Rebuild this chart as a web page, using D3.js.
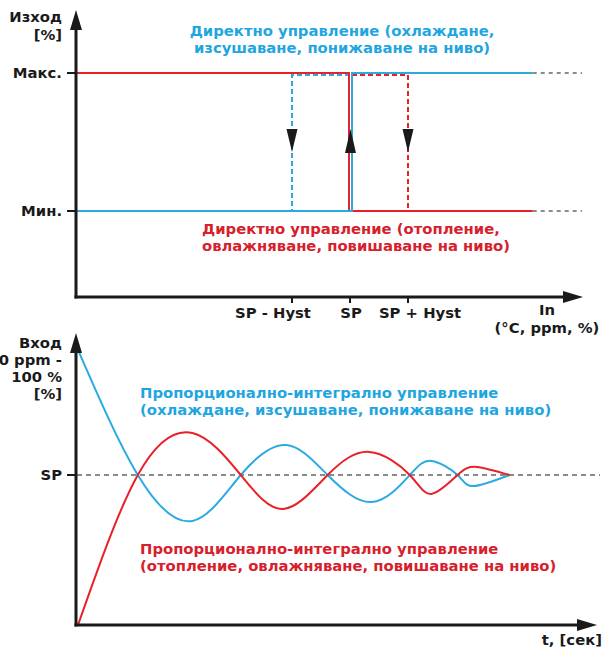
<!DOCTYPE html>
<html>
<head>
<meta charset="utf-8">
<script src="https://cdn.jsdelivr.net/npm/d3@7"></script>
<style>
  body { margin: 0; background: #fff; }
  svg { display: block; font-family: "DejaVu Sans", Verdana, sans-serif; font-weight: bold; }
</style>
</head>
<body>
<svg id="chart" width="606" height="650"></svg>
<script>
// ---- data: on/off (direct control) chart ----
var outLevels = ["Мин.", "Макс."];
var outValues = [0, 100];
var inTicks = ["SP - Hyst", "SP", "SP + Hyst"];
var inValues = [-1, 0, 1];          // SP = 0, Hyst = 1
var inLineEnd = 3.15, inDashEnd = 4.0;

// ---- data: PI control chart (time, value in %) ----
var spValue = 50;
var coolT = [0, 11.5, 22, 31.3, 40, 48, 56.5, 63.8, 68, 73, 76, 83];
var coolV = [91.7, 50, 34.7, 50, 60, 50, 41, 50, 54.7, 50, 46.3, 50];
var heatT = [0, 11.5, 22, 31.3, 39.5, 48, 56, 63.8, 68, 73, 76.7, 83];
var heatV = [0, 50, 64, 50, 38.7, 50, 57.7, 50, 43.7, 50, 52.7, 50];

var blue = "#29abe2", red = "#e8202a", ink = "#1a1a1a";
var blueTxt = "#1fa6e0", redTxt = "#d7202b";
var fs = 14.8;

var svg = d3.select("#chart");

function arrowHead(g, x, y, dir, w, h) {
    // dir: "up", "down", "right"
    var p;
    if (dir == "up") p = [[x, y], [x - w / 2, y + h], [x + w / 2, y + h]];
    else if (dir == "down") p = [[x, y], [x - w / 2, y - h], [x + w / 2, y - h]];
    else p = [[x, y], [x - h, y - w / 2], [x - h, y + w / 2]];
    g.append("path").attr("d", "M" + p.join("L") + "Z").attr("fill", ink);
}

function lines(g, arr, x, y, anchor, color, dy) {
    var t = g.append("text").attr("x", x).attr("y", y).attr("text-anchor", anchor)
        .attr("fill", color).style("font-size", fs + "px");
    arr.forEach(function (s, i) {
        t.append("tspan").attr("x", x).attr("dy", i ? dy : 0).text(s);
    });
}

// ================= upper chart =================
var up = svg.append("g");
var ox = 76, oy = 297, axEnd = 583, ayTop = 10;
var xUp = d3.scaleLinear().domain([-1, 1]).range([292, 408]);
var yUp = d3.scaleLinear().domain([0, 100]).range([211, 73]);
var yMin = yUp(outValues[0]), yMax = yUp(outValues[1]);

// gray continuation
[yMin, yMax].forEach(function (yy) {
    up.append("line").attr("x1", xUp(inLineEnd)).attr("x2", xUp(inDashEnd))
        .attr("y1", yy).attr("y2", yy)
        .attr("stroke", "#666").attr("stroke-width", 1.5).attr("stroke-dasharray", "4,4");
});

// dashed hysteresis paths
up.append("path")
    .attr("d", d3.line()([[xUp(inValues[1]), yMax + 2], [xUp(inValues[0]), yMax + 2], [xUp(inValues[0]), yMin]]))
    .attr("fill", "none").attr("stroke", blue).attr("stroke-width", 2).attr("stroke-dasharray", "5,3");
up.append("path")
    .attr("d", d3.line()([[xUp(inValues[1]) + 2, yMax + 2], [xUp(inValues[2]), yMax + 2], [xUp(inValues[2]), yMin]]))
    .attr("fill", "none").attr("stroke", red).attr("stroke-width", 2).attr("stroke-dasharray", "5,3");

// solid control lines
up.append("path")
    .attr("d", d3.line()([[ox, yMax], [xUp(0) - 1, yMax], [xUp(0) - 1, yMin], [xUp(inLineEnd), yMin]]))
    .attr("fill", "none").attr("stroke", red).attr("stroke-width", 2);
up.append("path")
    .attr("d", d3.line()([[ox, yMin], [xUp(0) + 2, yMin], [xUp(0) + 2, yMax], [xUp(inLineEnd), yMax]]))
    .attr("fill", "none").attr("stroke", blue).attr("stroke-width", 2);

// direction arrows
arrowHead(up, xUp(-1), 152, "down", 11, 23);
arrowHead(up, xUp(1), 152, "down", 11, 23);
arrowHead(up, xUp(0) + 0.5, 129, "up", 11, 24);

// axes
up.append("line").attr("x1", ox).attr("x2", ox).attr("y1", oy + 1.5).attr("y2", ayTop + 15)
    .attr("stroke", ink).attr("stroke-width", 3);
up.append("line").attr("x1", ox - 1.5).attr("x2", axEnd - 15).attr("y1", oy).attr("y2", oy)
    .attr("stroke", ink).attr("stroke-width", 3);
arrowHead(up, ox, ayTop, "up", 12, 20);
arrowHead(up, axEnd, oy, "right", 12, 20);

// y ticks / labels
outValues.forEach(function (v, i) {
    up.append("line").attr("x1", ox - 9).attr("x2", ox).attr("y1", yUp(v)).attr("y2", yUp(v))
        .attr("stroke", ink).attr("stroke-width", 2);
    up.append("text").attr("x", 62).attr("y", yUp(v) + 5).attr("text-anchor", "end")
        .attr("fill", ink).style("font-size", fs + "px").text(outLevels[i]);
});
lines(up, ["Изход", "[%]"], 62, 22, "end", ink, 18);

// x ticks / labels (labels sit a little outward from the ticks)
var labelShift = [-19, 1, 12];
inValues.forEach(function (v, i) {
    up.append("line").attr("x1", xUp(v)).attr("x2", xUp(v)).attr("y1", oy).attr("y2", oy + 6)
        .attr("stroke", ink).attr("stroke-width", 2);
    up.append("text").attr("x", xUp(v) + labelShift[i]).attr("y", 318).attr("text-anchor", "middle")
        .attr("fill", ink).style("font-size", fs + "px").text(inTicks[i]);
});
lines(up, ["In", "(°C, ppm, %)"], 547, 315, "middle", ink, 18);

// annotations
lines(up, ["Директно управление (охлаждане,", "изсушаване, понижаване на ниво)"], 342, 36, "middle", blueTxt, 17);
lines(up, ["Директно управление (отопление,", "овлажняване, повишаване на ниво)"], 202, 234, "start", redTxt, 17);

// ================= lower chart =================
var lo = svg.append("g");
var lx = 76, ly = 625, lxEnd = 597, lyTop = 333;
var xLo = d3.scaleLinear().domain([0, 100]).range([78, 598]);
var yLo = d3.scaleLinear().domain([0, 100]).range([625, 325]);

lo.append("line").attr("x1", lx - 8).attr("x2", 600).attr("y1", yLo(spValue)).attr("y2", yLo(spValue))
    .attr("stroke", "#666").attr("stroke-width", 1.5).attr("stroke-dasharray", "5,4");

var curve = d3.line()
    .x(function (d) { return xLo(d[0]); })
    .y(function (d) { return yLo(d[1]); })
    .curve(d3.curveNatural);

lo.append("path").datum(d3.zip(coolT, coolV)).attr("d", curve)
    .attr("fill", "none").attr("stroke", blue).attr("stroke-width", 2);
lo.append("path").datum(d3.zip(heatT, heatV)).attr("d", curve)
    .attr("fill", "none").attr("stroke", red).attr("stroke-width", 2);

lo.append("line").attr("x1", lx).attr("x2", lx).attr("y1", ly + 1.5).attr("y2", lyTop + 15)
    .attr("stroke", ink).attr("stroke-width", 3);
lo.append("line").attr("x1", lx - 1.5).attr("x2", lxEnd - 15).attr("y1", ly).attr("y2", ly)
    .attr("stroke", ink).attr("stroke-width", 3);
arrowHead(lo, lx, lyTop, "up", 12, 20);
arrowHead(lo, lxEnd, ly, "right", 12, 20);

lo.append("line").attr("x1", lx - 9).attr("x2", lx).attr("y1", yLo(spValue)).attr("y2", yLo(spValue))
    .attr("stroke", ink).attr("stroke-width", 2);
lo.append("text").attr("x", 62).attr("y", yLo(spValue) + 5).attr("text-anchor", "end")
    .attr("fill", ink).style("font-size", fs + "px").text("SP");
lines(lo, ["Вход", "0 ppm -", "100 %", "[%]"], 62, 348, "end", ink, 17);
lo.append("text").attr("x", 602).attr("y", 645).attr("text-anchor", "end")
    .attr("fill", ink).style("font-size", fs + "px").text("t, [сек]");

lines(lo, ["Пропорционално-интегрално управление", "(охлаждане, изсушаване, понижаване на ниво)"], 140, 398, "start", blueTxt, 17);
lines(lo, ["Пропорционално-интегрално управление", "(отопление, овлажняване, повишаване на ниво)"], 140, 554, "start", redTxt, 17);
</script>
</body>
</html>
